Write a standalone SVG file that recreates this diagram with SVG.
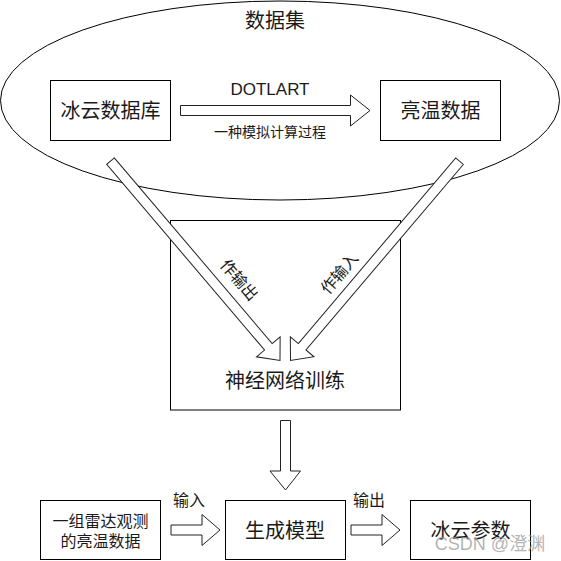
<svg xmlns="http://www.w3.org/2000/svg" width="561" height="561" viewBox="0 0 561 561">
<style>
.box{fill:#fff;stroke:#000;stroke-width:1}
.arr{fill:#fff;stroke:#222;stroke-width:1;stroke-linejoin:miter}
text{font-family:"Liberation Sans","Noto Sans CJK SC",sans-serif;fill:#1a1a1a;text-anchor:middle;dominant-baseline:central}
.t20{font-size:20px}
.t17{font-size:17px}
.t16{font-size:16px}
.t14{font-size:14px}
</style>
<rect width="561" height="561" fill="#fff"/>
<g id="dataset">
<ellipse cx="280" cy="100.5" rx="279.5" ry="99.5" fill="none" stroke="#000" stroke-width="1"/>
<text class="t20" x="275" y="21">数据集</text>
</g>
<g id="neural-box">
<rect class="box" x="170.5" y="220.5" width="230" height="189.5"/>
<text class="t20" x="285" y="381">神经网络训练</text>
</g>
<g id="ice-db">
<rect class="box" x="50.5" y="80.5" width="120" height="60"/>
<text class="t20" x="110.5" y="110.5">冰云数据库</text>
</g>
<g id="bt-data">
<rect class="box" x="380.5" y="80.5" width="120" height="60"/>
<text class="t20" x="440.5" y="110.5">亮温数据</text>
</g>
<g id="radar">
<rect class="box" x="40.5" y="500.5" width="120" height="59"/>
<text class="t16" x="100.5" y="521">一组雷达观测</text>
<text class="t16" x="100.5" y="541.5">的亮温数据</text>
</g>
<g id="model">
<rect class="box" x="225.5" y="500.5" width="120" height="59"/>
<text class="t20" x="285" y="531">生成模型</text>
</g>
<g id="params">
<rect class="box" x="410.5" y="500.5" width="120" height="59"/>
<text class="t20" x="470.5" y="531">冰云参数</text>
</g>
<g id="connectors">
<polygon class="arr" points="180.5,105.5 350.5,105.5 350.5,95 370,110.5 350.5,126 350.5,115.5 180.5,115.5"/>
<text class="t17" x="270" y="89.5">DOTLART</text>
<text class="t14" x="270" y="131.5">一种模拟计算过程</text>
<polygon class="arr" transform="translate(280,360.5) rotate(49.63)" points="-261.7,-5 -18,-5 -18,-15.5 0,0 -18,15.5 -18,5 -261.7,5"/>
<polygon class="arr" transform="translate(290.5,360.5) rotate(130.3)" points="-261.3,-5 -18,-5 -18,-15.5 0,0 -18,15.5 -18,5 -261.3,5"/>
<text class="t16" transform="translate(239,280) rotate(49.6)">作输出</text>
<text class="t16" transform="translate(339.5,273.5) rotate(-49.6)">作输入</text>
<polygon class="arr" points="280.5,420.5 290.5,420.5 290.5,471 300.5,471 285.5,490 270,471 280.5,471"/>
<polygon class="arr" points="171,525 202,525 202,514.5 220,530 202,545.5 202,535 171,535"/>
<text class="t16" x="189" y="500">输入</text>
<polygon class="arr" points="351,525 382,525 382,514.5 400,530 382,545.5 382,535 351,535"/>
<text class="t16" x="369" y="500">输出</text>
</g>
<text x="490" y="544" style="font-size:18px;fill:#9a9a9a;fill-opacity:0.75">CSDN @澄渊</text>
</svg>
